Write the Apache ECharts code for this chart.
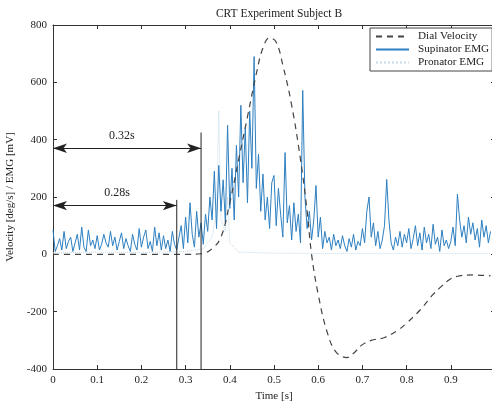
<!DOCTYPE html>
<html><head><meta charset="utf-8">
<script src="https://cdn.jsdelivr.net/npm/echarts@6/dist/echarts.min.js"></script>
<style>html,body{margin:0;padding:0;background:#fff}#c{width:492px;height:406px}</style>
</head><body><div id="c"></div>
<script>
const title = "CRT Experiment Subject B";
const xTicks = [0,0.1,0.2,0.3,0.4,0.5,0.6,0.7,0.8,0.9];
const yTicks = [-400,-200,0,200,400,600,800];

const dialTime = [0,0.05,0.1,0.15,0.2,0.25,0.3,0.335,0.36,0.38,0.40,0.42,0.44,0.46,0.475,0.49,0.505,0.52,0.54,0.56,0.575,0.585,0.60,0.62,0.64,0.665,0.68,0.70,0.72,0.75,0.78,0.80,0.83,0.86,0.88,0.90,0.92,0.95,0.99];
const dialVel  = [0,0,0,0,0,0,0,2,20,60,180,330,480,630,720,755,740,660,520,330,150,0,-140,-270,-340,-360,-345,-315,-300,-290,-265,-240,-195,-140,-110,-85,-75,-72,-75];

const emgStep = 0.005;
const supinatorEMG = [
 85,10,30,55,15,80,20,45,60,10,
 40,70,15,95,25,10,85,30,50,20,
 65,15,35,70,40,25,80,30,60,15,
 45,75,20,55,30,10,70,35,15,90,
 25,60,85,20,45,10,95,30,75,15,
 65,20,50,10,80,35,15,60,100,20,
 130,40,180,70,25,150,60,110,35,140,
 80,200,120,290,90,310,150,260,110,450,
 160,300,120,380,200,520,250,440,180,500,
 300,690,230,350,150,280,120,200,90,250,
 275,100,230,140,60,355,110,170,50,180,
 80,140,40,572,200,90,150,50,120,240,
 60,130,20,80,40,60,15,70,30,50,
 20,65,30,10,55,25,70,15,45,30,
 90,40,150,200,60,110,30,80,20,50,
 100,261,120,40,15,60,30,80,25,70,
 40,90,20,55,100,30,75,15,95,40,
 70,20,105,35,60,10,85,30,50,20,
 45,95,30,210,120,60,100,40,130,70,
 110,50,90,25,120,60,100,40,80
];
const pronTime = [0,0.1,0.2,0.3,0.34,0.36,0.37,0.375,0.38,0.39,0.395,0.40,0.42,0.5,0.6,0.7,0.8,0.9,0.99];
const pronatorEMG = [5,8,6,10,20,60,150,500,120,80,200,40,8,4,3,3,3,3,3];

const cut1 = 0.28, cut1Top = 190, arrow1Y = 170, label1 = "0.28s", label1Pos = [0.145, 216];
const cut2 = 0.335, cut2Top = 425, arrow2Y = 370, label2 = "0.32s", label2Pos = [0.156, 412];

const supData = supinatorEMG.map((v,i)=>[+(i*emgStep).toFixed(3), v]);
const pronData = pronTime.map((t,i)=>[t, pronatorEMG[i]]);
const dialData = dialTime.map((t,i)=>[t, dialVel[i]]);

const font = "Liberation Serif";
const axCol = "#333";
const chart = echarts.init(document.getElementById('c'), null, {renderer:'canvas'});
const tickCommon = {show:true, inside:true, length:4, lineStyle:{color:axCol}};
chart.setOption({
  animation:false,
  backgroundColor:'#fff',
  title:{text:title, left:274, top:3, textAlign:'center', textStyle:{fontFamily:font, fontSize:11.5, fontWeight:'normal', color:'#222'}},
  grid:{left:53, top:25, width:442, height:344, outerBoundsMode:'none', containLabel:false},
  legend:{
    data:['Dial Velocity','Supinator EMG','Pronator EMG'],
    orient:'vertical', left:370, top:28, itemWidth:33, itemHeight:10, itemGap:2,
    padding:[3,3,3,5], borderColor:'#444', borderWidth:1, backgroundColor:'#fff',
    itemStyle:{opacity:0},
    textStyle:{fontFamily:font, fontSize:11.2, color:'#222', padding:[0,0,0,4]}
  },
  xAxis:[{
    type:'value', min:0, max:1, interval:0.1, name:'Time [s]', nameLocation:'middle', nameGap:21,
    nameTextStyle:{fontFamily:font, fontSize:11, color:'#222'},
    axisLine:{onZero:false, lineStyle:{color:axCol}}, axisTick:tickCommon, splitLine:{show:false},
    axisLabel:{fontFamily:font, fontSize:11, color:'#222', margin:6,
      formatter:v=> xTicks.includes(+v.toFixed(2)) ? String(+v.toFixed(1)) : ''}
  },{
    type:'value', min:0, max:1, interval:0.1, position:'top',
    axisLine:{show:true, onZero:false, lineStyle:{color:axCol}}, axisTick:tickCommon, axisLabel:{show:false}, splitLine:{show:false}
  }],
  yAxis:[{
    type:'value', min:-400, max:800, interval:200, name:'Velocity [deg/s] / EMG [mV]', nameLocation:'middle', nameGap:29,
    nameTextStyle:{fontFamily:font, fontSize:11, color:'#222'},
    axisLine:{show:true, onZero:false, lineStyle:{color:axCol}}, axisTick:tickCommon, splitLine:{show:false},
    axisLabel:{fontFamily:font, fontSize:11, color:'#222', margin:6,
      formatter:v=> yTicks.includes(v) ? String(v) : ''}
  },{
    type:'value', min:-400, max:800, interval:200, position:'right',
    axisLine:{show:true, onZero:false, lineStyle:{color:axCol}}, axisTick:tickCommon, axisLabel:{show:false}, splitLine:{show:false}
  }],
  series:[
    {name:'Pronator EMG', type:'line', data:pronData, symbol:'none', z:2,
      lineStyle:{color:'#c5dbeb', width:1, type:'dotted'}, itemStyle:{color:'#c5dbeb'}},
    {name:'Supinator EMG', type:'line', data:supData, symbol:'none', z:3,
      lineStyle:{color:'#2d7fc1', width:1}, itemStyle:{color:'#2d7fc1'}},
    {name:'Dial Velocity', type:'line', data:dialData, symbol:'none', smooth:0.4, z:4,
      lineStyle:{color:'#444', width:1.2, type:[6,5]}, itemStyle:{color:'#444'}},
    {name:'cut1', type:'line', data:[[cut1,-400],[cut1,cut1Top]], symbol:'none', z:5,
      lineStyle:{color:'#222', width:1}},
    {name:'cut2', type:'line', data:[[cut2,-400],[cut2,cut2Top]], symbol:'none', z:5,
      lineStyle:{color:'#222', width:1},
      markLine:{silent:true, symbol:['arrow','arrow'], symbolSize:[7,14],
        lineStyle:{color:'#222', width:1, type:'solid'}, label:{show:false},
        data:[
          [{coord:[0,arrow2Y]},{coord:[cut2,arrow2Y]}],
          [{coord:[0,arrow1Y]},{coord:[cut1,arrow1Y]}]
        ]},
      markPoint:{silent:true, symbol:'circle', symbolSize:0,
        label:{show:true, fontFamily:font, fontSize:12, color:'#222', formatter:p=>p.name},
        data:[{name:label2, coord:label2Pos},{name:label1, coord:label1Pos}]}
    }
  ]
});
</script></body></html>
